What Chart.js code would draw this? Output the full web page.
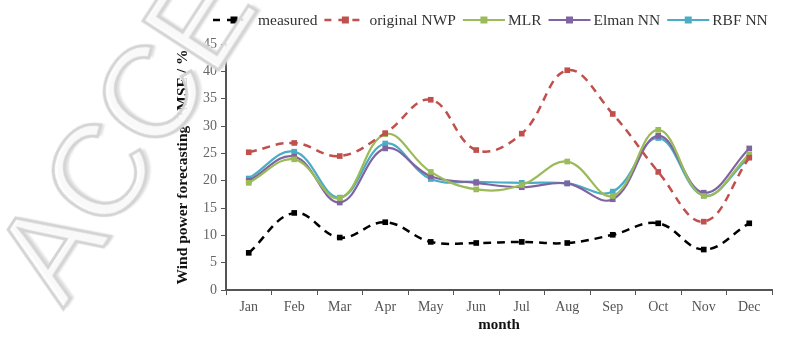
<!DOCTYPE html>
<html><head><meta charset="utf-8">
<script src="https://cdn.jsdelivr.net/npm/chart.js@4"></script>
<style>
html,body{margin:0;padding:0;background:#fff;overflow:hidden}
#wrap{position:relative;width:785px;height:338px;overflow:hidden}
#wm{position:absolute;left:80px;top:190px;height:130px;font:130px/130px "Liberation Sans",sans-serif;color:rgba(255,255,255,0.8);-webkit-text-stroke:3px #d4d4d4;text-shadow:3px 3px 2px #e2e2e2;transform:rotate(-57deg);transform-origin:0 100%;white-space:nowrap;pointer-events:none}
</style></head><body>
<div id="wrap"><canvas id="c" width="785" height="338"></canvas><div id="wm">ACCEPTED</div></div>
<script>
const months = ["Jan","Feb","Mar","Apr","May","Jun","Jul","Aug","Sep","Oct","Nov","Dec"];
const measured = [6.8,14.1,9.6,12.4,8.8,8.6,8.8,8.6,10.1,12.2,7.4,12.2];
const originalNWP = [25.2,26.9,24.5,28.7,34.8,25.6,28.6,40.2,32.2,21.6,12.5,24.2];
const mlr = [19.6,23.9,16.8,28.5,21.6,18.4,19.2,23.5,17.2,29.3,17.2,24.8];
const elman = [20.0,24.4,16.0,25.9,20.8,19.6,18.8,19.5,16.6,28.2,17.8,25.9];
const rbf = [20.4,25.3,16.9,26.8,20.3,19.8,19.6,19.5,18.0,27.8,17.3,24.3];
const seriesNames = ["measured","original NWP","MLR","Elman NN","RBF NN"];

const serif = "'Liberation Serif','Times New Roman',serif";
function ds(label,data,color,dash){
  return {label,data,borderColor:color,backgroundColor:color,borderWidth:dash?2.5:2.2,
    borderDash:dash?[8,6]:[],pointStyle:'rect',pointRadius:4,pointBorderWidth:0,
    tension:0.4,fill:false};
}
const legendPlugin={id:'customLegend',afterDraw(chart){
  const ctx=chart.ctx;ctx.save();
  ctx.font="15.5px "+serif;ctx.textBaseline='middle';
  const y=20;let x=213;
  chart.data.datasets.forEach(d=>{
    ctx.strokeStyle=d.borderColor;ctx.lineWidth=d.borderDash.length?2.5:2;
    ctx.setLineDash(d.borderDash.length?[7,7]:[]);
    ctx.beginPath();ctx.moveTo(x,y);ctx.lineTo(x+42,y);ctx.stroke();
    ctx.setLineDash([]);ctx.fillStyle=d.borderColor;
    ctx.fillRect(x+21-3.5,y-3.5,7,7);
    ctx.fillStyle='#333';ctx.fillText(d.label,x+45,y+1);
    x+=45+ctx.measureText(d.label).width+7;
  });
  ctx.restore();
}};
new Chart(document.getElementById('c'),{
  type:'line',
  data:{labels:months,datasets:[
    ds(seriesNames[0],measured,'#000000',true),
    ds(seriesNames[1],originalNWP,'#C0504D',true),
    ds(seriesNames[2],mlr,'#9BBB59',false),
    ds(seriesNames[3],elman,'#8064A2',false),
    ds(seriesNames[4],rbf,'#4BACC6',false)
  ]},
  options:{responsive:false,animation:false,
    layout:{padding:{left:170,right:13,top:44,bottom:0}},
    plugins:{legend:{display:false},tooltip:{enabled:false}},
    scales:{
      x:{offset:true,
        grid:{offset:true,drawOnChartArea:false,tickLength:5,color:'#555',tickColor:'#555'},
        border:{color:'#555',width:2},
        ticks:{color:'#555',font:{family:serif,size:14},padding:4,maxRotation:0},
        title:{display:true,text:'month',color:'#111',font:{family:serif,size:15,weight:'bold'},padding:{top:1}},
        afterFit(s){s.height=48;}
      },
      y:{min:0,max:45,
        grid:{drawOnChartArea:false,tickLength:5,color:'#555',tickColor:'#555'},
        border:{color:'#555',width:2},
        ticks:{stepSize:5,color:'#666',font:{family:serif,size:14},padding:4},
        title:{display:true,text:'Wind power forecasting RMSE / %',color:'#111',font:{family:serif,size:15.5,weight:'bold'},padding:{bottom:2}},
        afterFit(s){s.width=56;}
      }
    }
  },
  plugins:[legendPlugin]
});
</script>
</body></html>
